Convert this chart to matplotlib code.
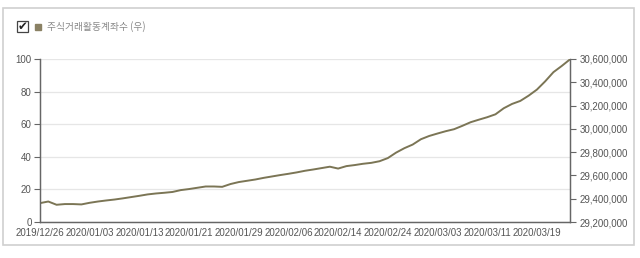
import matplotlib.pyplot as plt
from matplotlib.patches import Rectangle, FancyBboxPatch

# ===== datos =====
serie_nombre = "주식거래활동계좌수 (우)"
# valores del eje derecho (cuentas), días hábiles desde 2019/12/26
cuentas = [
    29362000, 29376000, 29348000, 29354000, 29354000, 29351000, 29365000, 29376000,
    29385000, 29393000, 29403000, 29414000, 29425000, 29437000, 29445000, 29451000,
    29458000, 29474000, 29483000, 29494000, 29505000, 29505000, 29502000, 29526000,
    29543000, 29554000, 29565000, 29579000, 29591000, 29603000, 29614000, 29626000,
    29640000, 29651000, 29663000, 29675000, 29659000, 29680000, 29689000, 29700000,
    29708000, 29722000, 29749000, 29796000, 29834000, 29865000, 29911000, 29939000,
    29960000, 29980000, 29997000, 30026000, 30057000, 30079000, 30100000, 30125000,
    30177000, 30214000, 30240000, 30285000, 30337000, 30408000, 30487000, 30540000,
    30597000,
]
etiquetas_x = ["2019/12/26", "2020/01/03", "2020/01/13", "2020/01/21", "2020/01/29",
               "2020/02/06", "2020/02/14", "2020/02/24", "2020/03/03", "2020/03/11",
               "2020/03/19"]
ticks_izq = [0, 20, 40, 60, 80, 100]
ticks_der = [29200000, 29400000, 29600000, 29800000, 30000000, 30200000, 30400000, 30600000]
# ==================

COLOR_LINEA = "#7b7555"
COLOR_TEXTO = "#555555"
COLOR_EJE = "#666666"
FUENTE = "Liberation Sans"

fig = plt.figure(figsize=(6.4, 2.58), dpi=100)

# marco exterior
marco = FancyBboxPatch((3 / 640, 13 / 258), 631 / 640, 237 / 258,
                       boxstyle="square,pad=0", transform=fig.transFigure,
                       fill=False, edgecolor="#d0d0d0", linewidth=1.2)
fig.patches.append(marco)

ax = fig.add_axes([40 / 640, 1 - 222 / 258, 530 / 640, 163 / 258])
ax2 = ax.twinx()

x = list(range(len(cuentas)))
ax2.plot(x, cuentas, color=COLOR_LINEA, linewidth=1.4)

ax.set_xlim(0, len(cuentas) - 1)
ax.set_ylim(0, 100)
ax2.set_ylim(29200000, 30600000)

ax.set_yticks(ticks_izq)
ax.set_yticklabels([str(t) for t in ticks_izq])
ax2.set_yticks(ticks_der)
ax2.set_yticklabels([f"{t:,}" for t in ticks_der])
ax.set_xticks([i * 6 for i in range(len(etiquetas_x))])
ax.set_xticklabels(etiquetas_x)

ax.grid(axis="y", color="#e6e6e6", linewidth=0.9)
ax.set_axisbelow(True)

for a in (ax, ax2):
    a.spines["top"].set_visible(False)
    for s in ("left", "right", "bottom"):
        a.spines[s].set_color(COLOR_EJE)
        a.spines[s].set_linewidth(0.9)

ax.tick_params(axis="y", length=4, width=0.8, color=COLOR_EJE, pad=2,
               labelsize=7, labelcolor=COLOR_TEXTO)
ax.tick_params(axis="x", length=0, pad=4, labelsize=7, labelcolor=COLOR_TEXTO)
ax2.tick_params(axis="y", length=4, width=0.8, color=COLOR_EJE, pad=3,
                labelsize=7, labelcolor=COLOR_TEXTO)
for lbl in ax.get_xticklabels() + ax.get_yticklabels() + ax2.get_yticklabels():
    lbl.set_fontfamily(FUENTE)

# leyenda con casilla
caja = Rectangle((17 / 640, 1 - 32 / 258), 11 / 640, 11 / 258, transform=fig.transFigure,
                 fill=False, edgecolor="#444444", linewidth=0.9)
fig.patches.append(caja)
fig.text(22.5 / 640, 1 - 26.5 / 258, "✔", fontsize=8.5, color="#222222", ha="center",
         va="center", family="DejaVu Sans")
fig.patches.append(Rectangle((35 / 640, 1 - 30 / 258), 6 / 640, 6 / 258,
                             transform=fig.transFigure, color="#8a8164"))
fig.text(47 / 640, 1 - 27 / 258, serie_nombre, fontsize=7, color="#888888",
         va="center", ha="left", family=["Noto Sans CJK KR", "DejaVu Sans"])

fig.savefig("out.png", dpi=100)
